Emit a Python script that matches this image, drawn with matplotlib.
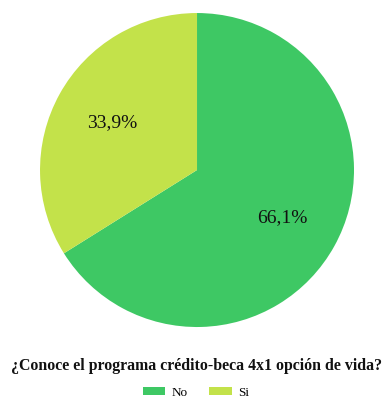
import matplotlib.pyplot as plt
from matplotlib.patches import Patch

labels = ["No", "Si"]
values = [66.1, 33.9]
colors = ["#3ec864", "#c3e24a"]
title = "¿Conoce el programa crédito-beca 4x1 opción de vida?"

plt.rcParams["font.family"] = ["Liberation Serif", "DejaVu Serif"]

fig = plt.figure(figsize=(3.83, 4.01), dpi=100)
ax = fig.add_axes([0.1044, 0.1845, 0.820, 0.783])

wedges, texts, autotexts = ax.pie(
    values,
    colors=colors,
    startangle=90,
    counterclock=False,
    autopct=lambda p: f"{p:.1f}%".replace(".", ","),
    pctdistance=0.62,
    wedgeprops={"linewidth": 0},
    textprops={"fontsize": 14, "color": "#111111"},
)
ax.set_xlim(-1, 1)
ax.set_ylim(-1, 1)
ax.set_aspect("equal")

fig.text(0.514, 0.087, title, ha="center", va="center",
         fontsize=11.4, fontweight="bold", color="#111111")

handles = [Patch(facecolor=c, edgecolor="none") for c in colors]
fig.legend(handles, labels, loc="center", bbox_to_anchor=(0.512, 0.02),
           ncol=2, frameon=False, fontsize=9.5, handlelength=1.7,
           handleheight=0.55, columnspacing=1.6, handletextpad=0.5)

fig.savefig("out.png", dpi=100)
